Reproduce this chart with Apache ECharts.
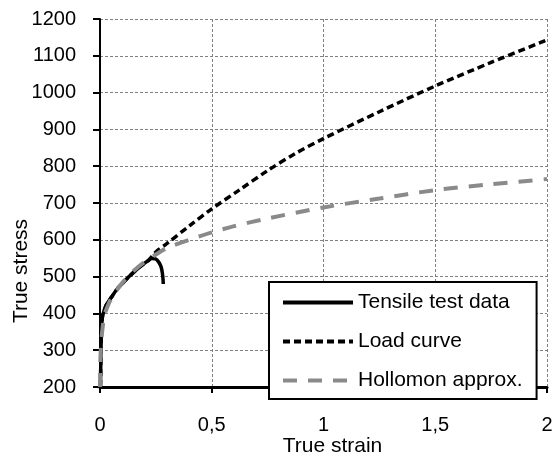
<!DOCTYPE html>
<html>
<head>
<meta charset="utf-8">
<script src="https://cdn.jsdelivr.net/npm/echarts@6/dist/echarts.min.js"></script>
<style>
  html, body { margin: 0; padding: 0; background: #fff; }
  #chart { width: 554px; height: 457px; }
</style>
</head>
<body>
<div id="chart"></div>
<script>
// Measured tensile test curve (true strain, true stress)
var tensileStrain = [0.002, 0.003, 0.004, 0.006, 0.008, 0.012, 0.02, 0.03, 0.05, 0.075, 0.1, 0.13, 0.16, 0.19, 0.215, 0.232, 0.248, 0.262, 0.273, 0.279, 0.282, 0.283];
var tensileStress = [200, 240, 290, 340, 372, 395, 410, 425, 443, 465, 481, 500, 517, 532, 543, 549, 548, 540, 527, 510, 493, 480];

// Load curve: follows the test data, then extended to large strains
var loadStrain = [0.002, 0.003, 0.004, 0.006, 0.008, 0.012, 0.02, 0.03, 0.05, 0.075, 0.1, 0.13, 0.16, 0.19, 0.215, 0.25, 0.3, 0.4, 0.5, 0.625, 0.75, 0.875, 1.0, 1.25, 1.5, 1.75, 2.0];
var loadStress = [200, 240, 290, 340, 372, 395, 410, 425, 443, 465, 481, 500, 517, 532, 543, 567, 590, 638, 684, 736, 788, 835, 875, 948, 1018, 1082, 1143];

// Hollomon approximation
var hollStrain = [0.0003, 0.001, 0.002, 0.005, 0.01, 0.02, 0.04, 0.06, 0.1, 0.15, 0.2, 0.25, 0.3, 0.4, 0.5, 0.6, 0.75, 1.0, 1.25, 1.5, 1.75, 2.0];
var hollStress = [200, 254, 280, 318, 352, 395, 428, 450, 483, 515, 540, 560, 578, 600, 620, 637, 658, 688, 712, 735, 751, 765];

var seriesNames = ['Tensile test data', 'Load curve', 'Hollomon approx.'];

function pairs(xs, ys) {
  return xs.map(function (x, i) { return [x, ys[i]]; });
}

var FONT = '"Liberation Sans", Arial, sans-serif';
var chart = echarts.init(document.getElementById('chart'), null, { renderer: 'canvas' });

chart.setOption({
  animation: false,
  backgroundColor: '#ffffff',
  textStyle: { fontFamily: FONT, color: '#000' },
  grid: { left: 100, right: 7, top: 19, bottom: 70, containLabel: false, outerBoundsMode: 'none' },
  xAxis: {
    type: 'value',
    min: 0, max: 2, interval: 0.5,
    name: 'True strain',
    nameLocation: 'middle',
    nameGap: 49,
    nameMoveOverlap: false,
    nameTextStyle: { fontFamily: FONT, fontSize: 21, color: '#000', padding: [0, 0, 0, 18] },
    axisLine: { show: true, onZero: false, lineStyle: { color: '#000', width: 3 } },
    axisTick: { show: true, inside: false, length: 6, lineStyle: { color: '#000', width: 2 } },
    axisLabel: {
      fontFamily: FONT, fontSize: 20, color: '#000', margin: 28,
      formatter: function (v) { return String(v).replace('.', ','); }
    },
    splitLine: { show: true, lineStyle: { color: '#808080', width: 1, type: [3, 2] } }
  },
  yAxis: {
    type: 'value',
    min: 200, max: 1200, interval: 100,
    name: 'True stress',
    nameLocation: 'middle',
    nameGap: 68,
    nameMoveOverlap: false,
    nameTextStyle: { fontFamily: FONT, fontSize: 21, color: '#000', padding: [0, 136, 0, 0] },
    axisLine: { show: true, onZero: false, lineStyle: { color: '#000', width: 2 } },
    axisTick: { show: true, inside: false, length: 7, lineStyle: { color: '#000', width: 2 } },
    axisLabel: {
      fontFamily: FONT, fontSize: 20, color: '#000', margin: 24,
      formatter: function (v) { return String(v); }
    },
    splitLine: { show: true, lineStyle: { color: '#808080', width: 1, type: [3, 2] } }
  },
  legend: {
    orient: 'vertical',
    left: 269, top: 282,
    padding: [10, 14, 8, 12],
    backgroundColor: '#fff',
    borderColor: '#000',
    borderWidth: 2,
    itemWidth: 70,
    itemHeight: 20,
    itemGap: 18,
    itemStyle: { opacity: 0 },
    lineStyle: { width: 4 },
    textStyle: { fontFamily: FONT, fontSize: 21, color: '#000', width: 180, overflow: 'none' },
    data: seriesNames
  },
  series: [
    {
      name: seriesNames[0],
      type: 'line',
      data: pairs(tensileStrain, tensileStress),
      symbol: 'none',
      smooth: 0.3,
      lineStyle: { color: '#000', width: 3.5, type: 'solid' },
      itemStyle: { color: '#000' },
      z: 2
    },
    {
      name: seriesNames[1],
      type: 'line',
      data: pairs(loadStrain, loadStress),
      symbol: 'none',
      smooth: 0.3,
      lineStyle: { color: '#000', width: 3.5, type: [7, 4] },
      itemStyle: { color: '#000' },
      z: 3
    },
    {
      name: seriesNames[2],
      type: 'line',
      data: pairs(hollStrain, hollStress),
      symbol: 'none',
      smooth: 0.3,
      lineStyle: { color: '#8a8a8a', width: 4, type: [14, 11] },
      itemStyle: { color: '#8a8a8a' },
      z: 4
    }
  ]
});
</script>
</body>
</html>
